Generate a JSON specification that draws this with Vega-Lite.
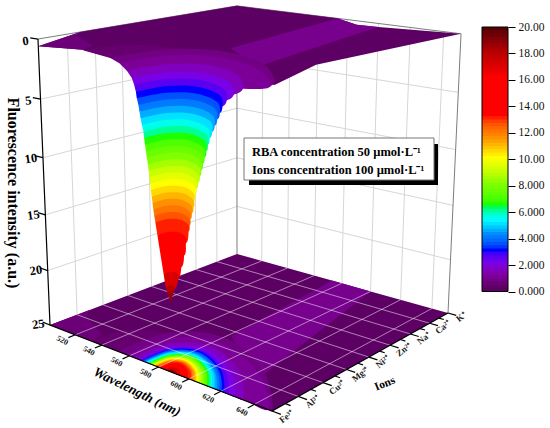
{"$schema":"https://vega.github.io/schema/vega-lite/v6.json","width":550,"height":428,"autosize":{"type":"none"},"padding":0,"background":"white","view":{"stroke":null},
"data":{"values":[
{"k":"s","r":"a","b":0.12,"wl":500,"ion":0,"z":0.6},{"k":"s","r":"a","b":0.12,"wl":500,"ion":1.5,"z":0},{"k":"s","r":"a","b":0.12,"wl":500,"ion":8,"z":0},{"k":"s","r":"a","b":0.12,"wl":573,"ion":8,"z":0},{"k":"s","r":"a","b":0.12,"wl":586,"ion":8,"z":0.35},{"k":"s","r":"a","b":0.12,"wl":600,"ion":8,"z":0.3},{"k":"s","r":"a","b":0.12,"wl":650,"ion":8,"z":0},{"k":"s","r":"a","b":0.12,"wl":650,"ion":1.5,"z":0.1},{"k":"s","r":"a","b":0.12,"wl":650,"ion":0,"z":0.9},{"k":"s","r":"a","b":0.12,"wl":552,"ion":0,"z":0.66},{"k":"s","r":"a","b":0.12,"wl":533,"ion":0,"z":0.35},
{"k":"s","r":"b","b":0.85,"wl":573,"ion":8,"z":0},{"k":"s","r":"b","b":0.85,"wl":586,"ion":8,"z":0.35},{"k":"s","r":"b","b":0.85,"wl":600,"ion":8,"z":0.3},{"k":"s","r":"b","b":0.85,"wl":625,"ion":1,"z":0.5},{"k":"s","r":"b","b":0.85,"wl":582,"ion":2.7,"z":0.5},
{"k":"s","r":"c","b":0.55,"wl":500,"ion":0,"z":0.6},{"k":"s","r":"c","b":0.55,"wl":500,"ion":1.5,"z":0},{"k":"s","r":"c","b":0.55,"wl":505,"ion":1.1,"z":0.1},{"k":"s","r":"c","b":0.55,"wl":530,"ion":0.5,"z":0.3},{"k":"s","r":"c","b":0.55,"wl":533,"ion":0,"z":0.35},

{"k":"r","b":0.4,"z":0.4,"wl":533,"ion":0},{"k":"r","b":0.4,"z":0.4,"wl":536.5,"ion":1.22},{"k":"r","b":0.4,"z":0.4,"wl":568.1,"ion":1.7},{"k":"r","b":0.4,"z":0.4,"wl":617.2,"ion":1.02},{"k":"r","b":0.4,"z":0.4,"wl":650,"ion":0},{"k":"r","b":0.4,"z":0.7,"wl":650,"ion":0},{"k":"r","b":0.4,"z":0.7,"wl":552,"ion":0},
{"k":"r","b":0.7,"z":0.7,"wl":552,"ion":0},{"k":"r","b":0.7,"z":0.7,"wl":554.9,"ion":1.8},{"k":"r","b":0.7,"z":0.7,"wl":581.4,"ion":2.5},{"k":"r","b":0.7,"z":0.7,"wl":622.6,"ion":1.5},{"k":"r","b":0.7,"z":0.7,"wl":650,"ion":0},{"k":"r","b":0.7,"z":1,"wl":648,"ion":0},{"k":"r","b":0.7,"z":1,"wl":558,"ion":0},
{"k":"r","b":1,"z":1,"wl":558,"ion":0},{"k":"r","b":1,"z":1,"wl":560.7,"ion":1.56},{"k":"r","b":1,"z":1,"wl":585,"ion":2.16},{"k":"r","b":1,"z":1,"wl":622.8,"ion":1.3},{"k":"r","b":1,"z":1,"wl":648,"ion":0},{"k":"r","b":1,"z":1.5,"wl":633,"ion":0},{"k":"r","b":1,"z":1.5,"wl":563,"ion":0},
{"k":"r","b":1.5,"z":1.5,"wl":563,"ion":0},{"k":"r","b":1.5,"z":1.5,"wl":565.1,"ion":1.32},{"k":"r","b":1.5,"z":1.5,"wl":584,"ion":1.84},{"k":"r","b":1.5,"z":1.5,"wl":613.4,"ion":1.1},{"k":"r","b":1.5,"z":1.5,"wl":633,"ion":0},{"k":"r","b":1.5,"z":2,"wl":628,"ion":0},{"k":"r","b":1.5,"z":2,"wl":566,"ion":0},
{"k":"r","b":2,"z":2,"wl":566,"ion":0},{"k":"r","b":2,"z":2,"wl":567.9,"ion":1.15},{"k":"r","b":2,"z":2,"wl":584.6,"ion":1.6},{"k":"r","b":2,"z":2,"wl":610.6,"ion":0.96},{"k":"r","b":2,"z":2,"wl":628,"ion":0},{"k":"r","b":2,"z":2.5,"wl":624,"ion":0},{"k":"r","b":2,"z":2.5,"wl":567.5,"ion":0},
{"k":"r","b":2.5,"z":2.5,"wl":567.5,"ion":0},{"k":"r","b":2.5,"z":2.5,"wl":569.2,"ion":1.07},{"k":"r","b":2.5,"z":2.5,"wl":584.5,"ion":1.48},{"k":"r","b":2.5,"z":2.5,"wl":608.2,"ion":0.89},{"k":"r","b":2.5,"z":2.5,"wl":624,"ion":0},{"k":"r","b":2.5,"z":3,"wl":621.5,"ion":0},{"k":"r","b":2.5,"z":3,"wl":568.5,"ion":0},
{"k":"r","b":3,"z":3,"wl":568.5,"ion":0},{"k":"r","b":3,"z":3,"wl":570.1,"ion":1.01},{"k":"r","b":3,"z":3,"wl":584.4,"ion":1.4},{"k":"r","b":3,"z":3,"wl":606.7,"ion":0.84},{"k":"r","b":3,"z":3,"wl":621.5,"ion":0},{"k":"r","b":3,"z":3.5,"wl":620,"ion":0},{"k":"r","b":3,"z":3.5,"wl":569,"ion":0},
{"k":"r","b":3.5,"z":3.5,"wl":569,"ion":0},{"k":"r","b":3.5,"z":3.5,"wl":570.5,"ion":0.96},{"k":"r","b":3.5,"z":3.5,"wl":584.3,"ion":1.34},{"k":"r","b":3.5,"z":3.5,"wl":605.7,"ion":0.8},{"k":"r","b":3.5,"z":3.5,"wl":620,"ion":0},{"k":"r","b":3.5,"z":4,"wl":618.5,"ion":0},{"k":"r","b":3.5,"z":4,"wl":570,"ion":0},
{"k":"r","b":4,"z":4,"wl":570,"ion":0},{"k":"r","b":4,"z":4,"wl":571.5,"ion":0.92},{"k":"r","b":4,"z":4,"wl":584.6,"ion":1.28},{"k":"r","b":4,"z":4,"wl":604.9,"ion":0.77},{"k":"r","b":4,"z":4,"wl":618.5,"ion":0},{"k":"r","b":4,"z":4.5,"wl":617,"ion":0},{"k":"r","b":4,"z":4.5,"wl":570.6,"ion":0},
{"k":"r","b":4.5,"z":4.5,"wl":570.6,"ion":0},{"k":"r","b":4.5,"z":4.5,"wl":572,"ion":0.88},{"k":"r","b":4.5,"z":4.5,"wl":584.5,"ion":1.22},{"k":"r","b":4.5,"z":4.5,"wl":604,"ion":0.73},{"k":"r","b":4.5,"z":4.5,"wl":617,"ion":0},{"k":"r","b":4.5,"z":5,"wl":615.5,"ion":0},{"k":"r","b":4.5,"z":5,"wl":571.2,"ion":0},
{"k":"r","b":5,"z":5,"wl":571.2,"ion":0},{"k":"r","b":5,"z":5,"wl":572.5,"ion":0.85},{"k":"r","b":5,"z":5,"wl":584.5,"ion":1.18},{"k":"r","b":5,"z":5,"wl":603.1,"ion":0.71},{"k":"r","b":5,"z":5,"wl":615.5,"ion":0},{"k":"r","b":5,"z":5.5,"wl":614,"ion":0},{"k":"r","b":5,"z":5.5,"wl":572,"ion":0},
{"k":"r","b":5.5,"z":5.5,"wl":572,"ion":0},{"k":"r","b":5.5,"z":5.5,"wl":573.3,"ion":0.81},{"k":"r","b":5.5,"z":5.5,"wl":584.6,"ion":1.12},{"k":"r","b":5.5,"z":5.5,"wl":602.2,"ion":0.67},{"k":"r","b":5.5,"z":5.5,"wl":614,"ion":0},{"k":"r","b":5.5,"z":6,"wl":613,"ion":0},{"k":"r","b":5.5,"z":6,"wl":572.9,"ion":0},
{"k":"r","b":6,"z":6,"wl":572.9,"ion":0},{"k":"r","b":6,"z":6,"wl":574.1,"ion":0.78},{"k":"r","b":6,"z":6,"wl":584.9,"ion":1.08},{"k":"r","b":6,"z":6,"wl":601.8,"ion":0.65},{"k":"r","b":6,"z":6,"wl":613,"ion":0},{"k":"r","b":6,"z":6.5,"wl":612,"ion":0},{"k":"r","b":6,"z":6.5,"wl":573.3,"ion":0},
{"k":"r","b":6.5,"z":6.5,"wl":573.3,"ion":0},{"k":"r","b":6.5,"z":6.5,"wl":574.5,"ion":0.75},{"k":"r","b":6.5,"z":6.5,"wl":584.9,"ion":1.04},{"k":"r","b":6.5,"z":6.5,"wl":601.2,"ion":0.62},{"k":"r","b":6.5,"z":6.5,"wl":612,"ion":0},{"k":"r","b":6.5,"z":7,"wl":611,"ion":0},{"k":"r","b":6.5,"z":7,"wl":573.8,"ion":0},
{"k":"r","b":7,"z":7,"wl":573.8,"ion":0},{"k":"r","b":7,"z":7,"wl":574.9,"ion":0.72},{"k":"r","b":7,"z":7,"wl":585,"ion":1},{"k":"r","b":7,"z":7,"wl":600.6,"ion":0.6},{"k":"r","b":7,"z":7,"wl":611,"ion":0},{"k":"r","b":7,"z":7.5,"wl":610,"ion":0},{"k":"r","b":7,"z":7.5,"wl":574.3,"ion":0},
{"k":"r","b":7.5,"z":7.5,"wl":574.3,"ion":0},{"k":"r","b":7.5,"z":7.5,"wl":575.4,"ion":0.69},{"k":"r","b":7.5,"z":7.5,"wl":585,"ion":0.96},{"k":"r","b":7.5,"z":7.5,"wl":600,"ion":0.58},{"k":"r","b":7.5,"z":7.5,"wl":610,"ion":0},{"k":"r","b":7.5,"z":8,"wl":609,"ion":0},{"k":"r","b":7.5,"z":8,"wl":574.8,"ion":0},
{"k":"r","b":8,"z":8,"wl":574.8,"ion":0},{"k":"r","b":8,"z":8,"wl":575.8,"ion":0.66},{"k":"r","b":8,"z":8,"wl":585.1,"ion":0.92},{"k":"r","b":8,"z":8,"wl":599.4,"ion":0.55},{"k":"r","b":8,"z":8,"wl":609,"ion":0},{"k":"r","b":8,"z":8.5,"wl":608,"ion":0},{"k":"r","b":8,"z":8.5,"wl":575.4,"ion":0},
{"k":"r","b":8.5,"z":8.5,"wl":575.4,"ion":0},{"k":"r","b":8.5,"z":8.5,"wl":576.4,"ion":0.63},{"k":"r","b":8.5,"z":8.5,"wl":585.2,"ion":0.88},{"k":"r","b":8.5,"z":8.5,"wl":598.9,"ion":0.53},{"k":"r","b":8.5,"z":8.5,"wl":608,"ion":0},{"k":"r","b":8.5,"z":9,"wl":607,"ion":0},{"k":"r","b":8.5,"z":9,"wl":575.9,"ion":0},
{"k":"r","b":9,"z":9,"wl":575.9,"ion":0},{"k":"r","b":9,"z":9,"wl":576.8,"ion":0.6},{"k":"r","b":9,"z":9,"wl":585.2,"ion":0.84},{"k":"r","b":9,"z":9,"wl":598.3,"ion":0.5},{"k":"r","b":9,"z":9,"wl":607,"ion":0},{"k":"r","b":9,"z":9.5,"wl":606,"ion":0},{"k":"r","b":9,"z":9.5,"wl":576.3,"ion":0},
{"k":"r","b":9.5,"z":9.5,"wl":576.3,"ion":0},{"k":"r","b":9.5,"z":9.5,"wl":577.2,"ion":0.58},{"k":"r","b":9.5,"z":9.5,"wl":585.2,"ion":0.8},{"k":"r","b":9.5,"z":9.5,"wl":597.7,"ion":0.48},{"k":"r","b":9.5,"z":9.5,"wl":606,"ion":0},{"k":"r","b":9.5,"z":10,"wl":605,"ion":0},{"k":"r","b":9.5,"z":10,"wl":576.7,"ion":0},
{"k":"r","b":10,"z":10,"wl":576.7,"ion":0},{"k":"r","b":10,"z":10,"wl":577.5,"ion":0.55},{"k":"r","b":10,"z":10,"wl":585.2,"ion":0.76},{"k":"r","b":10,"z":10,"wl":597.1,"ion":0.46},{"k":"r","b":10,"z":10,"wl":605,"ion":0},{"k":"r","b":10,"z":10.5,"wl":604.5,"ion":0},{"k":"r","b":10,"z":10.5,"wl":577,"ion":0},
{"k":"r","b":10.5,"z":10.5,"wl":577,"ion":0},{"k":"r","b":10.5,"z":10.5,"wl":577.8,"ion":0.52},{"k":"r","b":10.5,"z":10.5,"wl":585.3,"ion":0.72},{"k":"r","b":10.5,"z":10.5,"wl":596.8,"ion":0.43},{"k":"r","b":10.5,"z":10.5,"wl":604.5,"ion":0},{"k":"r","b":10.5,"z":11,"wl":604,"ion":0},{"k":"r","b":10.5,"z":11,"wl":577.5,"ion":0},
{"k":"r","b":11,"z":11,"wl":577.5,"ion":0},{"k":"r","b":11,"z":11,"wl":578.3,"ion":0.5},{"k":"r","b":11,"z":11,"wl":585.5,"ion":0.7},{"k":"r","b":11,"z":11,"wl":596.6,"ion":0.42},{"k":"r","b":11,"z":11,"wl":604,"ion":0},{"k":"r","b":11,"z":11.5,"wl":603,"ion":0},{"k":"r","b":11,"z":11.5,"wl":578,"ion":0},
{"k":"r","b":11.5,"z":11.5,"wl":578,"ion":0},{"k":"r","b":11.5,"z":11.5,"wl":578.8,"ion":0.48},{"k":"r","b":11.5,"z":11.5,"wl":585.5,"ion":0.66},{"k":"r","b":11.5,"z":11.5,"wl":596,"ion":0.4},{"k":"r","b":11.5,"z":11.5,"wl":603,"ion":0},{"k":"r","b":11.5,"z":12,"wl":602,"ion":0},{"k":"r","b":11.5,"z":12,"wl":578.4,"ion":0},
{"k":"r","b":12,"z":12,"wl":578.4,"ion":0},{"k":"r","b":12,"z":12,"wl":579.1,"ion":0.45},{"k":"r","b":12,"z":12,"wl":585.5,"ion":0.63},{"k":"r","b":12,"z":12,"wl":595.4,"ion":0.38},{"k":"r","b":12,"z":12,"wl":602,"ion":0},{"k":"r","b":12,"z":12.5,"wl":601.5,"ion":0},{"k":"r","b":12,"z":12.5,"wl":579,"ion":0},
{"k":"r","b":12.5,"z":12.5,"wl":579,"ion":0},{"k":"r","b":12.5,"z":12.5,"wl":579.7,"ion":0.43},{"k":"r","b":12.5,"z":12.5,"wl":585.8,"ion":0.6},{"k":"r","b":12.5,"z":12.5,"wl":595.2,"ion":0.36},{"k":"r","b":12.5,"z":12.5,"wl":601.5,"ion":0},{"k":"r","b":12.5,"z":13,"wl":600.8,"ion":0},{"k":"r","b":12.5,"z":13,"wl":579.6,"ion":0},
{"k":"r","b":13,"z":13,"wl":579.6,"ion":0},{"k":"r","b":13,"z":13,"wl":580.2,"ion":0.4},{"k":"r","b":13,"z":13,"wl":586,"ion":0.56},{"k":"r","b":13,"z":13,"wl":594.9,"ion":0.34},{"k":"r","b":13,"z":13,"wl":600.8,"ion":0},{"k":"r","b":13,"z":14,"wl":599,"ion":0},{"k":"r","b":13,"z":14,"wl":580.8,"ion":0},
{"k":"r","b":14,"z":14,"wl":580.8,"ion":0},{"k":"r","b":14,"z":14,"wl":581.3,"ion":0.36},{"k":"r","b":14,"z":14,"wl":586.3,"ion":0.5},{"k":"r","b":14,"z":14,"wl":593.9,"ion":0.3},{"k":"r","b":14,"z":14,"wl":599,"ion":0},{"k":"r","b":14,"z":15,"wl":597.8,"ion":0},{"k":"r","b":14,"z":15,"wl":582,"ion":0},
{"k":"r","b":15,"z":15,"wl":582,"ion":0},{"k":"r","b":15,"z":15,"wl":582.5,"ion":0.3},{"k":"r","b":15,"z":15,"wl":586.7,"ion":0.42},{"k":"r","b":15,"z":15,"wl":593.4,"ion":0.25},{"k":"r","b":15,"z":15,"wl":597.8,"ion":0},{"k":"r","b":15,"z":16,"wl":596,"ion":0},{"k":"r","b":15,"z":16,"wl":583.2,"ion":0},
{"k":"r","b":16,"z":16,"wl":583.2,"ion":0},{"k":"r","b":16,"z":16,"wl":583.6,"ion":0.26},{"k":"r","b":16,"z":16,"wl":587,"ion":0.36},{"k":"r","b":16,"z":16,"wl":592.4,"ion":0.22},{"k":"r","b":16,"z":16,"wl":596,"ion":0},{"k":"r","b":16,"z":17,"wl":594,"ion":0},{"k":"r","b":16,"z":17,"wl":584.4,"ion":0},
{"k":"r","b":17,"z":17,"wl":584.4,"ion":0},{"k":"r","b":17,"z":17,"wl":584.7,"ion":0.19},{"k":"r","b":17,"z":17,"wl":587.3,"ion":0.26},{"k":"r","b":17,"z":17,"wl":591.3,"ion":0.16},{"k":"r","b":17,"z":17,"wl":594,"ion":0},{"k":"r","b":17,"z":18,"wl":591.3,"ion":0},{"k":"r","b":17,"z":18,"wl":585.6,"ion":0},
{"k":"r","b":18,"z":18,"wl":585.6,"ion":0},{"k":"r","b":18,"z":18,"wl":585.8,"ion":0.12},{"k":"r","b":18,"z":18,"wl":587.3,"ion":0.16},{"k":"r","b":18,"z":18,"wl":589.7,"ion":0.1},{"k":"r","b":18,"z":18,"wl":591.3,"ion":0},{"k":"r","b":18,"z":18.5,"wl":590,"ion":0},{"k":"r","b":18,"z":18.5,"wl":586.8,"ion":0},
{"k":"r","b":18.5,"z":18.5,"wl":586.8,"ion":0},{"k":"r","b":18.5,"z":18.5,"wl":586.9,"ion":0.08},{"k":"r","b":18.5,"z":18.5,"wl":587.8,"ion":0.11},{"k":"r","b":18.5,"z":18.5,"wl":589.1,"ion":0.07},{"k":"r","b":18.5,"z":18.5,"wl":590,"ion":0},{"k":"r","b":18.5,"z":19,"wl":589.5,"ion":0},{"k":"r","b":18.5,"z":19,"wl":588.5,"ion":0},
{"k":"r","b":19,"z":19,"wl":588.5,"ion":0},{"k":"r","b":19,"z":19,"wl":588.5,"ion":0.03},{"k":"r","b":19,"z":19,"wl":588.8,"ion":0.04},{"k":"r","b":19,"z":19,"wl":589.2,"ion":0.02},{"k":"r","b":19,"z":19,"wl":589.5,"ion":0},{"k":"r","b":19,"z":19.3,"wl":589,"ion":0},

{"k":"w","r":"v1","wl":520,"ion":8,"z":0},{"k":"w","r":"v1","wl":520,"ion":8,"z":25},{"k":"w","r":"v2","wl":540,"ion":8,"z":0},{"k":"w","r":"v2","wl":540,"ion":8,"z":25},{"k":"w","r":"v3","wl":560,"ion":8,"z":0},{"k":"w","r":"v3","wl":560,"ion":8,"z":25},{"k":"w","r":"v4","wl":580,"ion":8,"z":0},{"k":"w","r":"v4","wl":580,"ion":8,"z":25},{"k":"w","r":"v5","wl":600,"ion":8,"z":0},{"k":"w","r":"v5","wl":600,"ion":8,"z":25},{"k":"w","r":"v6","wl":620,"ion":8,"z":0},{"k":"w","r":"v6","wl":620,"ion":8,"z":25},{"k":"w","r":"v7","wl":640,"ion":8,"z":0},{"k":"w","r":"v7","wl":640,"ion":8,"z":25},
{"k":"w","r":"i1","wl":500,"ion":1,"z":0},{"k":"w","r":"i1","wl":500,"ion":1,"z":25},{"k":"w","r":"i2","wl":500,"ion":2,"z":0},{"k":"w","r":"i2","wl":500,"ion":2,"z":25},{"k":"w","r":"i3","wl":500,"ion":3,"z":0},{"k":"w","r":"i3","wl":500,"ion":3,"z":25},{"k":"w","r":"i4","wl":500,"ion":4,"z":0},{"k":"w","r":"i4","wl":500,"ion":4,"z":25},{"k":"w","r":"i5","wl":500,"ion":5,"z":0},{"k":"w","r":"i5","wl":500,"ion":5,"z":25},{"k":"w","r":"i6","wl":500,"ion":6,"z":0},{"k":"w","r":"i6","wl":500,"ion":6,"z":25},{"k":"w","r":"i7","wl":500,"ion":7,"z":0},{"k":"w","r":"i7","wl":500,"ion":7,"z":25},
{"k":"w","r":"h5","wl":500,"ion":0,"z":5},{"k":"w","r":"h5","wl":500,"ion":8,"z":5},{"k":"w","r":"h5","wl":650,"ion":8,"z":5},{"k":"w","r":"h10","wl":500,"ion":0,"z":10},{"k":"w","r":"h10","wl":500,"ion":8,"z":10},{"k":"w","r":"h10","wl":650,"ion":8,"z":10},{"k":"w","r":"h15","wl":500,"ion":0,"z":15},{"k":"w","r":"h15","wl":500,"ion":8,"z":15},{"k":"w","r":"h15","wl":650,"ion":8,"z":15},{"k":"w","r":"h20","wl":500,"ion":0,"z":20},{"k":"w","r":"h20","wl":500,"ion":8,"z":20},{"k":"w","r":"h20","wl":650,"ion":8,"z":20},

{"k":"f","r":"a1","wl":520,"ion":0,"z":25},{"k":"f","r":"a1","wl":520,"ion":8,"z":25},{"k":"f","r":"a2","wl":540,"ion":0,"z":25},{"k":"f","r":"a2","wl":540,"ion":8,"z":25},{"k":"f","r":"a3","wl":560,"ion":0,"z":25},{"k":"f","r":"a3","wl":560,"ion":8,"z":25},{"k":"f","r":"a4","wl":580,"ion":0,"z":25},{"k":"f","r":"a4","wl":580,"ion":8,"z":25},{"k":"f","r":"a5","wl":600,"ion":0,"z":25},{"k":"f","r":"a5","wl":600,"ion":8,"z":25},{"k":"f","r":"a6","wl":620,"ion":0,"z":25},{"k":"f","r":"a6","wl":620,"ion":8,"z":25},{"k":"f","r":"a7","wl":640,"ion":0,"z":25},{"k":"f","r":"a7","wl":640,"ion":8,"z":25},
{"k":"f","r":"b1","wl":500,"ion":1,"z":25},{"k":"f","r":"b1","wl":650,"ion":1,"z":25},{"k":"f","r":"b2","wl":500,"ion":2,"z":25},{"k":"f","r":"b2","wl":650,"ion":2,"z":25},{"k":"f","r":"b3","wl":500,"ion":3,"z":25},{"k":"f","r":"b3","wl":650,"ion":3,"z":25},{"k":"f","r":"b4","wl":500,"ion":4,"z":25},{"k":"f","r":"b4","wl":650,"ion":4,"z":25},{"k":"f","r":"b5","wl":500,"ion":5,"z":25},{"k":"f","r":"b5","wl":650,"ion":5,"z":25},{"k":"f","r":"b6","wl":500,"ion":6,"z":25},{"k":"f","r":"b6","wl":650,"ion":6,"z":25},{"k":"f","r":"b7","wl":500,"ion":7,"z":25},{"k":"f","r":"b7","wl":650,"ion":7,"z":25},

{"k":"e","r":"top","wl":500,"ion":0,"z":0},{"k":"e","r":"top","wl":500,"ion":8,"z":0},{"k":"e","r":"top","wl":650,"ion":8,"z":0},{"k":"e","r":"top","wl":650,"ion":8,"z":25},{"k":"e","r":"back","wl":500,"ion":8,"z":0},{"k":"e","r":"back","wl":500,"ion":8,"z":25},

{"k":"a","r":"ax","wl":500,"ion":0,"z":0},{"k":"a","r":"ax","wl":500,"ion":0,"z":25},{"k":"a","r":"ax","wl":650,"ion":0,"z":25},{"k":"a","r":"ax","wl":650,"ion":8,"z":25},
{"k":"a","r":"z0","wl":500,"ion":0,"z":0},{"k":"a","r":"z0","wl":494,"ion":0,"z":0},{"k":"a","r":"z5","wl":500,"ion":0,"z":5},{"k":"a","r":"z5","wl":494,"ion":0,"z":5},{"k":"a","r":"z10","wl":500,"ion":0,"z":10},{"k":"a","r":"z10","wl":494,"ion":0,"z":10},{"k":"a","r":"z15","wl":500,"ion":0,"z":15},{"k":"a","r":"z15","wl":494,"ion":0,"z":15},{"k":"a","r":"z20","wl":500,"ion":0,"z":20},{"k":"a","r":"z20","wl":494,"ion":0,"z":20},{"k":"a","r":"z25","wl":500,"ion":0,"z":25},{"k":"a","r":"z25","wl":494,"ion":0,"z":25},
{"k":"a","r":"t1","wl":520,"ion":0,"z":25},{"k":"a","r":"t1","wl":520,"ion":-0.25,"z":25},{"k":"a","r":"t2","wl":540,"ion":0,"z":25},{"k":"a","r":"t2","wl":540,"ion":-0.25,"z":25},{"k":"a","r":"t3","wl":560,"ion":0,"z":25},{"k":"a","r":"t3","wl":560,"ion":-0.25,"z":25},{"k":"a","r":"t4","wl":580,"ion":0,"z":25},{"k":"a","r":"t4","wl":580,"ion":-0.25,"z":25},{"k":"a","r":"t5","wl":600,"ion":0,"z":25},{"k":"a","r":"t5","wl":600,"ion":-0.25,"z":25},{"k":"a","r":"t6","wl":620,"ion":0,"z":25},{"k":"a","r":"t6","wl":620,"ion":-0.25,"z":25},{"k":"a","r":"t7","wl":640,"ion":0,"z":25},{"k":"a","r":"t7","wl":640,"ion":-0.25,"z":25},
{"k":"a","r":"m0","wl":650,"ion":0,"z":25},{"k":"a","r":"m0","wl":655,"ion":0,"z":25},{"k":"a","r":"m1","wl":650,"ion":0.5,"z":25},{"k":"a","r":"m1","wl":653,"ion":0.5,"z":25},{"k":"a","r":"m2","wl":650,"ion":1,"z":25},{"k":"a","r":"m2","wl":655,"ion":1,"z":25},{"k":"a","r":"m3","wl":650,"ion":1.5,"z":25},{"k":"a","r":"m3","wl":653,"ion":1.5,"z":25},{"k":"a","r":"m4","wl":650,"ion":2,"z":25},{"k":"a","r":"m4","wl":655,"ion":2,"z":25},{"k":"a","r":"m5","wl":650,"ion":2.5,"z":25},{"k":"a","r":"m5","wl":653,"ion":2.5,"z":25},{"k":"a","r":"m6","wl":650,"ion":3,"z":25},{"k":"a","r":"m6","wl":655,"ion":3,"z":25},{"k":"a","r":"m7","wl":650,"ion":3.5,"z":25},{"k":"a","r":"m7","wl":653,"ion":3.5,"z":25},{"k":"a","r":"m8","wl":650,"ion":4,"z":25},{"k":"a","r":"m8","wl":655,"ion":4,"z":25},{"k":"a","r":"m9","wl":650,"ion":4.5,"z":25},{"k":"a","r":"m9","wl":653,"ion":4.5,"z":25},{"k":"a","r":"m10","wl":650,"ion":5,"z":25},{"k":"a","r":"m10","wl":655,"ion":5,"z":25},{"k":"a","r":"m11","wl":650,"ion":5.5,"z":25},{"k":"a","r":"m11","wl":653,"ion":5.5,"z":25},{"k":"a","r":"m12","wl":650,"ion":6,"z":25},{"k":"a","r":"m12","wl":655,"ion":6,"z":25},{"k":"a","r":"m13","wl":650,"ion":6.5,"z":25},{"k":"a","r":"m13","wl":653,"ion":6.5,"z":25},{"k":"a","r":"m14","wl":650,"ion":7,"z":25},{"k":"a","r":"m14","wl":655,"ion":7,"z":25},{"k":"a","r":"m15","wl":650,"ion":7.5,"z":25},{"k":"a","r":"m15","wl":653,"ion":7.5,"z":25},{"k":"a","r":"m16","wl":650,"ion":8,"z":25},{"k":"a","r":"m16","wl":655,"ion":8,"z":25},

{"k":"lw","tx":"520","wl":520,"ion":-0.45,"z":25},{"k":"lw","tx":"540","wl":540,"ion":-0.45,"z":25},{"k":"lw","tx":"560","wl":560,"ion":-0.45,"z":25},{"k":"lw","tx":"580","wl":580,"ion":-0.45,"z":25},{"k":"lw","tx":"600","wl":600,"ion":-0.45,"z":25},{"k":"lw","tx":"620","wl":620,"ion":-0.45,"z":25},{"k":"lw","tx":"640","wl":640,"ion":-0.45,"z":25},
{"k":"li","tx":"Fe³⁺","wl":658,"ion":0,"z":25},{"k":"li","tx":"Al³⁺","wl":658,"ion":1,"z":25},{"k":"li","tx":"Cu²⁺","wl":658,"ion":2,"z":25},{"k":"li","tx":"Mg²⁺","wl":658,"ion":3,"z":25},{"k":"li","tx":"Ni²⁺","wl":658,"ion":4,"z":25},{"k":"li","tx":"Zn²⁺","wl":658,"ion":5,"z":25},{"k":"li","tx":"Na⁺","wl":658,"ion":6,"z":25},{"k":"li","tx":"Ca²⁺","wl":658,"ion":7,"z":25},{"k":"li","tx":"K⁺","wl":658,"ion":8,"z":25},
{"k":"lz","tx":"0","wl":490,"ion":0,"z":0},{"k":"lz","tx":"5","wl":490,"ion":0,"z":5},{"k":"lz","tx":"10","wl":490,"ion":0,"z":10},{"k":"lz","tx":"15","wl":490,"ion":0,"z":15},{"k":"lz","tx":"20","wl":490,"ion":0,"z":20},{"k":"lz","tx":"25","wl":490,"ion":0,"z":25}
]},
"transform":[
{"calculate":"(datum.wl-500)/150","as":"u"},
{"calculate":"datum.ion/8","as":"v"},
{"calculate":"1-datum.z/25","as":"t"},
{"calculate":"1-0.1625*datum.u+0.1877*datum.v-0.06*datum.t","as":"w"},
{"calculate":"(177.8*datum.u+231.5*datum.v-14.3*datum.t+50)/datum.w","as":"px"},
{"calculate":"(19.2*datum.u-23.3*datum.v-288.3*datum.t-6.8*(1-datum.u)*datum.v*datum.t+325)/datum.w","as":"py"},
{"calculate":"1-0.1625*datum.u+0.1877*datum.v","as":"fw"},
{"calculate":"(177.8*datum.u+231.5*datum.v+50)/datum.fw","as":"fx"},
{"calculate":"(19.2*datum.u-23.3*datum.v+325)/datum.fw","as":"fy"}
],
"resolve":{"scale":{"y":"independent"}},
"layer":[
{"transform":[{"filter":"datum.k==='w'"}],"mark":{"type":"line","stroke":"#d6d6d6","strokeWidth":1},"encoding":{"x":{"field":"px","type":"quantitative","scale":{"domain":[0,550],"nice":false,"zero":false},"axis":null},"y":{"field":"py","type":"quantitative","scale":{"domain":[0,428],"reverse":true,"nice":false,"zero":false},"axis":null},"detail":{"field":"r","type":"nominal"},"order":{"value":null}}},
{"transform":[{"filter":"datum.k==='e'"}],"mark":{"type":"line","stroke":"#7d7d7d","strokeWidth":1},"encoding":{"x":{"field":"px","type":"quantitative","axis":null},"y":{"field":"py","type":"quantitative","scale":{"domain":[0,428],"reverse":true,"nice":false,"zero":false},"axis":null},"detail":{"field":"r","type":"nominal"},"order":{"value":null}}},
{"transform":[{"filter":"datum.k==='s'"}],"mark":{"type":"line","filled":true,"strokeWidth":0},"encoding":{"x":{"field":"fx","type":"quantitative","axis":null},"y":{"field":"fy","type":"quantitative","scale":{"domain":[0,428],"reverse":true,"nice":false,"zero":false},"axis":null},"detail":{"field":"r","type":"nominal"},"order":{"value":null},"fill":{"field":"b","type":"quantitative","legend":null,"scale":{"domain":[0,0.3,1,2,3,4.2,5.3,6.4,8,10,11.5,13.1,16,18,20],"range":["#5a0062","#620068","#7c0098","#7a00e6","#0000ff","#0088ff","#00ffff","#00ff00","#80ff00","#ffff00","#ff9000","#ff0000","#ff0000","#b80000","#4a0000"]}}}},
{"transform":[{"filter":"datum.k==='r'"}],"mark":{"type":"line","filled":true,"interpolate":"catmull-rom","strokeWidth":0},"encoding":{"x":{"field":"fx","type":"quantitative","axis":null},"y":{"field":"fy","type":"quantitative","scale":{"domain":[0,428],"reverse":true,"nice":false,"zero":false},"axis":null},"detail":{"field":"b","type":"nominal"},"order":{"value":null},"fill":{"field":"b","type":"quantitative","legend":null}}},
{"transform":[{"filter":"datum.k==='f'"}],"mark":{"type":"line","stroke":"#ffffff","strokeOpacity":0.5,"strokeWidth":1},"encoding":{"x":{"field":"px","type":"quantitative","axis":null},"y":{"field":"py","type":"quantitative","scale":{"domain":[0,428],"reverse":true,"nice":false,"zero":false},"axis":null},"detail":{"field":"r","type":"nominal"},"order":{"value":null}}},
{"transform":[{"filter":"datum.k==='a'"}],"mark":{"type":"line","stroke":"#000000","strokeWidth":1.2},"encoding":{"x":{"field":"px","type":"quantitative","axis":null},"y":{"field":"py","type":"quantitative","scale":{"domain":[0,428],"reverse":true,"nice":false,"zero":false},"axis":null},"detail":{"field":"r","type":"nominal"},"order":{"value":null}}},
{"transform":[{"filter":"datum.k==='s'"}],"mark":{"type":"line","filled":true,"strokeWidth":0},"encoding":{"x":{"field":"px","type":"quantitative","axis":null},"y":{"field":"py","type":"quantitative","scale":{"domain":[0,428],"reverse":true,"nice":false,"zero":false},"axis":null},"detail":{"field":"r","type":"nominal"},"order":{"value":null},"fill":{"field":"b","type":"quantitative","legend":null}}},
{"transform":[{"filter":"datum.k==='r'"}],"mark":{"type":"line","filled":true,"interpolate":"catmull-rom","strokeWidth":0},"encoding":{"x":{"field":"px","type":"quantitative","axis":null},"y":{"field":"py","type":"quantitative","scale":{"domain":[0,428],"reverse":true,"nice":false,"zero":false},"axis":null},"detail":{"field":"b","type":"nominal"},"order":{"value":null},"fill":{"field":"b","type":"quantitative","legend":null}}},
{"transform":[{"filter":"datum.k==='lw'"}],"mark":{"type":"text","font":"Liberation Serif","fontWeight":"bold","fontSize":8,"angle":28,"baseline":"middle","dy":1,"fill":"#222222"},"encoding":{"x":{"field":"px","type":"quantitative","axis":null},"y":{"field":"py","type":"quantitative","scale":{"domain":[0,428],"reverse":true,"nice":false,"zero":false},"axis":null},"text":{"field":"tx"}}},
{"transform":[{"filter":"datum.k==='li'"}],"mark":{"type":"text","font":"Liberation Serif","fontWeight":"bold","fontSize":9,"angle":-38,"baseline":"middle","fill":"#222222"},"encoding":{"x":{"field":"px","type":"quantitative","axis":null},"y":{"field":"py","type":"quantitative","scale":{"domain":[0,428],"reverse":true,"nice":false,"zero":false},"axis":null},"text":{"field":"tx"}}},
{"transform":[{"filter":"datum.k==='lz'"}],"mark":{"type":"text","font":"Liberation Serif","fontWeight":"bold","fontSize":12.5,"angle":-8,"baseline":"middle","dy":4},"encoding":{"x":{"field":"px","type":"quantitative","axis":null},"y":{"field":"py","type":"quantitative","scale":{"domain":[0,428],"reverse":true,"nice":false,"zero":false},"axis":null},"text":{"field":"tx"}}},
{"data":{"values":[{"t":"Wavelength (nm)"}]},"mark":{"type":"text","font":"Liberation Serif","fontWeight":"bold","fontStyle":"italic","fontSize":13.5,"angle":26,"baseline":"middle"},"encoding":{"x":{"datum":137,"type":"quantitative","axis":null},"y":{"datum":392,"type":"quantitative","scale":{"domain":[0,428],"reverse":true,"nice":false,"zero":false},"axis":null},"text":{"field":"t"}}},
{"data":{"values":[{"t":"Ions"}]},"mark":{"type":"text","font":"Liberation Serif","fontWeight":"bold","fontSize":11.5,"angle":-22,"baseline":"middle"},"encoding":{"x":{"datum":385,"type":"quantitative","axis":null},"y":{"datum":384,"type":"quantitative","scale":{"domain":[0,428],"reverse":true,"nice":false,"zero":false},"axis":null},"text":{"field":"t"}}},
{"data":{"values":[{"t":"Fluorescence intensity (a.u.)"}]},"mark":{"type":"text","font":"Liberation Serif","fontWeight":"bold","fontSize":16,"angle":90,"baseline":"middle"},"encoding":{"x":{"datum":13,"type":"quantitative","axis":null},"y":{"datum":193,"type":"quantitative","scale":{"domain":[0,428],"reverse":true,"nice":false,"zero":false},"axis":null},"text":{"field":"t"}}},
{"data":{"values":[{"n":"shadow"}]},"mark":{"type":"rect","fill":"#000000"},"encoding":{"x":{"datum":249,"type":"quantitative","axis":null},"x2":{"datum":438},"y":{"datum":144,"type":"quantitative","scale":{"domain":[0,428],"reverse":true,"nice":false,"zero":false},"axis":null},"y2":{"datum":185}}},
{"data":{"values":[{"n":"box"}]},"mark":{"type":"rect","fill":"#ffffff","stroke":"#777777","strokeWidth":1},"encoding":{"x":{"datum":244,"type":"quantitative","axis":null},"x2":{"datum":434},"y":{"datum":138,"type":"quantitative","scale":{"domain":[0,428],"reverse":true,"nice":false,"zero":false},"axis":null},"y2":{"datum":180}}},
{"data":{"values":[{"t":"RBA concentration 50 µmol·L⁻¹"}]},"mark":{"type":"text","font":"Liberation Serif","fontWeight":"bold","fontSize":12.5,"align":"left","baseline":"middle"},"encoding":{"x":{"datum":252,"type":"quantitative","axis":null},"y":{"datum":152,"type":"quantitative","scale":{"domain":[0,428],"reverse":true,"nice":false,"zero":false},"axis":null},"text":{"field":"t"}}},
{"data":{"values":[{"t":"Ions concentration 100 µmol·L⁻¹"}]},"mark":{"type":"text","font":"Liberation Serif","fontWeight":"bold","fontSize":12.5,"align":"left","baseline":"middle"},"encoding":{"x":{"datum":252,"type":"quantitative","axis":null},"y":{"datum":170,"type":"quantitative","scale":{"domain":[0,428],"reverse":true,"nice":false,"zero":false},"axis":null},"text":{"field":"t"}}},
{"data":{"values":[{"v":0},{"v":0.25},{"v":0.5},{"v":0.75},{"v":1},{"v":1.25},{"v":1.5},{"v":1.75},{"v":2},{"v":2.25},{"v":2.5},{"v":2.75},{"v":3},{"v":3.25},{"v":3.5},{"v":3.75},{"v":4},{"v":4.25},{"v":4.5},{"v":4.75},{"v":5},{"v":5.25},{"v":5.5},{"v":5.75},{"v":6},{"v":6.25},{"v":6.5},{"v":6.75},{"v":7},{"v":7.25},{"v":7.5},{"v":7.75},{"v":8},{"v":8.25},{"v":8.5},{"v":8.75},{"v":9},{"v":9.25},{"v":9.5},{"v":9.75},{"v":10},{"v":10.25},{"v":10.5},{"v":10.75},{"v":11},{"v":11.25},{"v":11.5},{"v":11.75},{"v":12},{"v":12.25},{"v":12.5},{"v":12.75},{"v":13},{"v":13.25},{"v":13.5},{"v":13.75},{"v":14},{"v":14.5},{"v":15},{"v":15.5},{"v":16},{"v":16.25},{"v":16.5},{"v":16.75},{"v":17},{"v":17.25},{"v":17.5},{"v":17.75},{"v":18},{"v":18.25},{"v":18.5},{"v":18.75},{"v":19},{"v":19.25},{"v":19.5},{"v":19.75}]},"mark":{"type":"rect"},"encoding":{"x":{"datum":482,"type":"quantitative","axis":null},"x2":{"datum":508},"y":{"field":"v","type":"quantitative","scale":{"domain":[0,20],"range":[291.5,27],"nice":false,"zero":false},"axis":{"orient":"right","offset":-42,"values":[0,2,4,6,8,10,12,14,16,18,20],"labelExpr":"datum.value===0?'0.000':format(datum.value,'.4r')","domain":false,"grid":false,"title":null,"tickSize":7,"tickColor":"#000000","labelFont":"Liberation Serif","labelFontSize":11.5,"labelColor":"#111111","labelPadding":3}},"y2":{"datum":20},"fill":{"field":"v","type":"quantitative","legend":null}}},
{"data":{"values":[{"n":"frame"}]},"mark":{"type":"rect","fill":null,"stroke":"#000000","strokeWidth":1},"encoding":{"x":{"datum":482,"type":"quantitative","axis":null},"x2":{"datum":508},"y":{"datum":27,"type":"quantitative","scale":{"domain":[0,428],"reverse":true,"nice":false,"zero":false},"axis":null},"y2":{"datum":291.5}}}
]}
